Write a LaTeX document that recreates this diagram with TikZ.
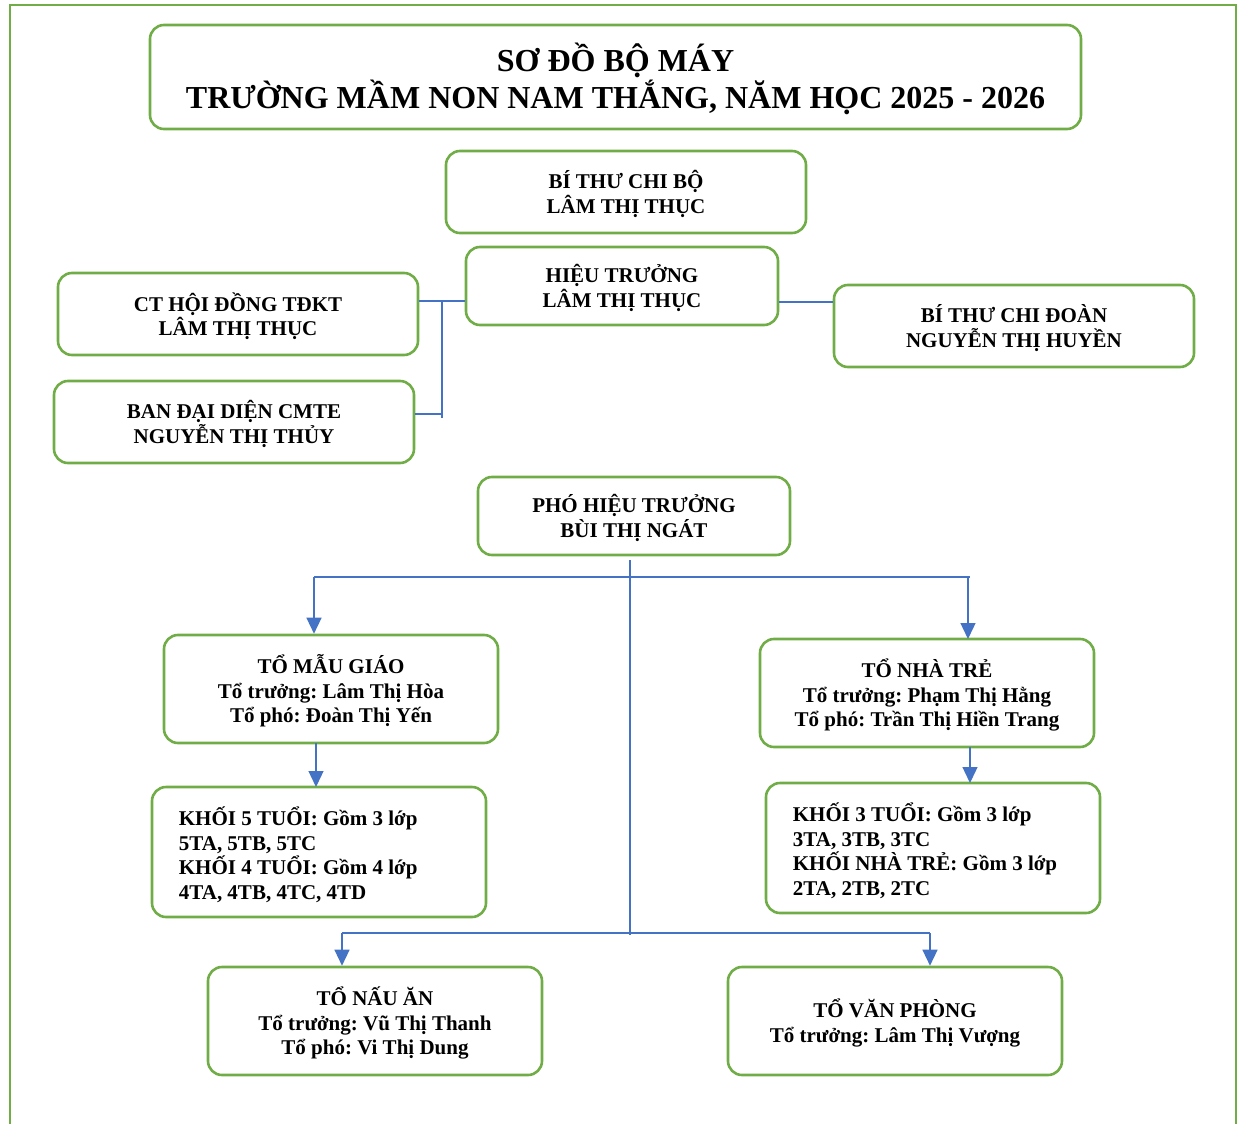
\documentclass[tikz,border=0pt]{standalone}
\usepackage{fontspec}
\setmainfont{Liberation Serif}
\usetikzlibrary{arrows.meta}
\definecolor{grn}{HTML}{70AD47}
\definecolor{blu}{HTML}{4472C4}
\tikzset{
  box/.style={draw=grn, line width=2.6pt, rounded corners=14pt, fill=white, inner sep=0pt},
  txt/.style={align=center, font=\fontsize{21}{24.5}\selectfont\bfseries, inner sep=0pt},
  ltxt/.style={txt, align=left, anchor=west},
  conn/.style={draw=blu, line width=1.3pt},
  arr/.style={conn, -{Triangle[width=15pt,length=16pt]}},
}
\begin{document}
\frenchspacing
\begin{tikzpicture}[x=1pt,y=-1pt]
\useasboundingbox (0,0) rectangle (1243,1124);
\draw[grn, line width=2.6pt] (10,1124) -- (10,5) -- (1236,5) -- (1236,1124);

\node[box, minimum width=931pt, minimum height=104pt] (title) at (615.5,77) {};
\node[txt, font=\fontsize{32}{37}\selectfont\bfseries] (titlet) at ([yshift=-2pt]title.center)
  {SƠ ĐỒ BỘ MÁY\\TRƯỜNG MẦM NON NAM THẮNG, NĂM HỌC 2025 - 2026};

\node[box, minimum width=360pt, minimum height=82pt] (bt) at (626,192) {};
\node[txt] (btt) at ([yshift=-2pt]bt.center) {BÍ THƯ CHI BỘ\\LÂM THỊ THỤC};

\node[box, minimum width=312pt, minimum height=78pt] (ht) at (622,286) {};
\node[txt] (htt) at ([yshift=-2pt]ht.center) {HIỆU TRƯỞNG\\LÂM THỊ THỤC};

\node[box, minimum width=360pt, minimum height=82pt] (ct) at (238,314) {};
\node[txt] (ctt) at ([yshift=-2pt]ct.center) {CT HỘI ĐỒNG TĐKT\\LÂM THỊ THỤC};

\node[box, minimum width=360pt, minimum height=82pt] (cm) at (234,422) {};
\node[txt] (cmt) at ([yshift=-2pt]cm.center) {BAN ĐẠI DIỆN CMTE\\NGUYỄN THỊ THỦY};

\node[box, minimum width=360pt, minimum height=82pt] (cd) at (1014,326) {};
\node[txt] (cdt) at ([yshift=-2pt]cd.center) {BÍ THƯ CHI ĐOÀN\\NGUYỄN THỊ HUYỀN};

\node[box, minimum width=312pt, minimum height=78pt] (pht) at (634,516) {};
\node[txt] (phtt) at ([yshift=-2pt]pht.center) {PHÓ HIỆU TRƯỞNG\\BÙI THỊ NGÁT};

\node[box, minimum width=334pt, minimum height=108pt] (mg) at (331,689) {};
\node[txt] (mgt) at ([yshift=-2pt]mg.center) {TỔ MẪU GIÁO\\Tổ trưởng: Lâm Thị Hòa\\Tổ phó: Đoàn Thị Yến};

\node[box, minimum width=334pt, minimum height=108pt] (nt) at (927,693) {};
\node[txt] (ntt) at ([yshift=-2pt]nt.center) {TỔ NHÀ TRẺ\\Tổ trưởng: Phạm Thị Hằng\\Tổ phó: Trần Thị Hiền Trang};

\node[box, minimum width=334pt, minimum height=130pt] (k5) at (319,852) {};
\node[ltxt] (k5t) at ([xshift=28pt,yshift=-3pt]k5.west)
  {KHỐI 5 TUỔI: Gồm 3 lớp\\5TA, 5TB, 5TC\\KHỐI 4 TUỔI: Gồm 4 lớp\\4TA, 4TB, 4TC, 4TD};

\node[box, minimum width=334pt, minimum height=130pt] (k3) at (933,848) {};
\node[ltxt] (k3t) at ([xshift=28pt,yshift=-3pt]k3.west)
  {KHỐI 3 TUỔI: Gồm 3 lớp\\3TA, 3TB, 3TC\\KHỐI NHÀ TRẺ: Gồm 3 lớp\\2TA, 2TB, 2TC};

\node[box, minimum width=334pt, minimum height=108pt] (na) at (375,1021) {};
\node[txt] (nat) at ([yshift=-2pt]na.center) {TỔ NẤU ĂN\\Tổ trưởng: Vũ Thị Thanh\\Tổ phó: Vi Thị Dung};

\node[box, minimum width=334pt, minimum height=108pt] (vp) at (895,1021) {};
\node[txt] (vpt) at ([yshift=-2pt]vp.center) {TỔ VĂN PHÒNG\\Tổ trưởng: Lâm Thị Vượng};

% left bracket from HIEU TRUONG
\coordinate (lj1) at (442,301);
\coordinate (lj2) at (442,418);
\coordinate (lj3) at (442,414);
\draw[conn] (ht.west |- lj1) -- (ct.east |- lj1);
\draw[conn] (lj1) -- (lj2);
\draw[conn] (lj3) -- (cm.east |- lj3);
% right
\coordinate (rj) at (800,302);
\draw[conn] (ht.east |- rj) -- (cd.west |- rj);

% lower tree
\coordinate (p0) at (630,560);
\coordinate (p1) at (630,935);
\coordinate (h1l) at (314,577);
\coordinate (h1r) at (970,577);
\coordinate (h2l) at (342,933);
\coordinate (h2r) at (930,933);
\draw[conn] (p0) -- (p1);
\draw[conn] (h1l) -- (h1r);
\draw[arr] (h1l) -- (h1l |- mg.north);
\draw[arr] (968,577) -- (968,639);
\draw[arr] (316,743) -- (316,787);
\draw[arr] (970,747) -- (970,783);
\draw[conn] (h2l) -- (h2r);
\draw[arr] (h2l) -- (h2l |- na.north);
\draw[arr] (h2r) -- (h2r |- vp.north);
\end{tikzpicture}
\end{document}
